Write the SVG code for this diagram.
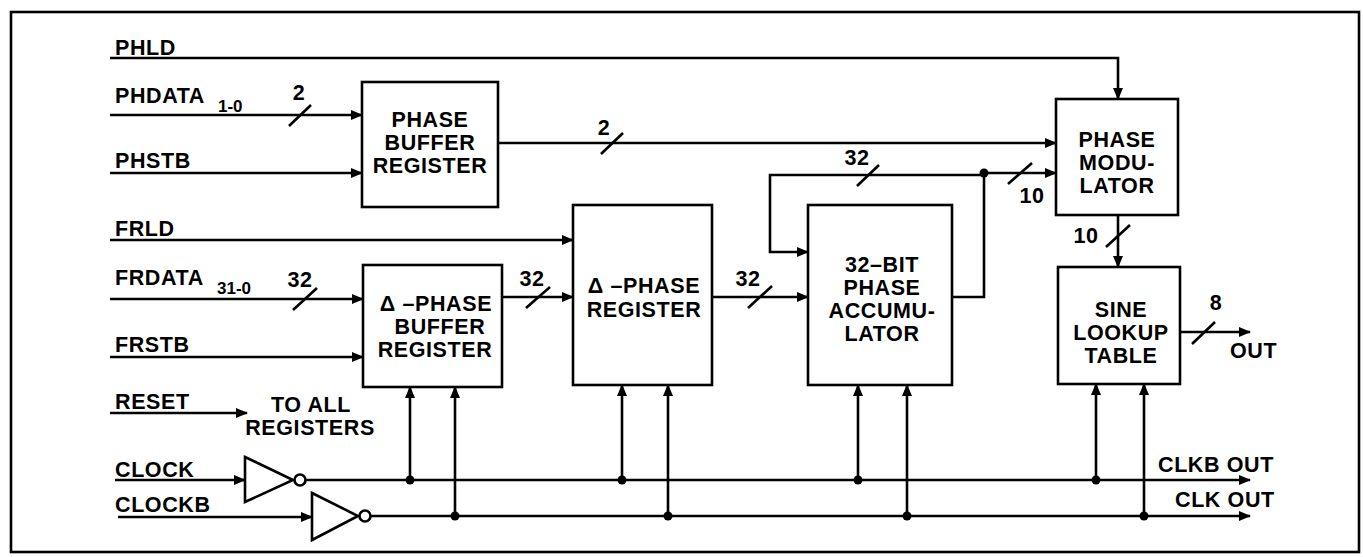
<svg xmlns="http://www.w3.org/2000/svg" width="1363" height="557" viewBox="0 0 1363 557">
<defs>
<marker id="arr" markerUnits="userSpaceOnUse" markerWidth="12" markerHeight="10" refX="11" refY="5" orient="auto">
<path d="M0,0 L12,5 L0,10 z" fill="#000"/>
</marker>
<style>
.w{fill:none;stroke:#000;stroke-width:2.6}
.b{fill:#fff;stroke:#000;stroke-width:2.6}
.s{stroke:#000;stroke-width:2.6}
.t{font-family:"Liberation Sans",Arial,sans-serif;font-weight:bold;font-size:21.5px;letter-spacing:0.6px;fill:#000}
.c{text-anchor:middle}
.sub{font-size:17px;letter-spacing:0}
.d{fill:#000}
</style>
</defs>
<rect x="11" y="12" width="1348" height="540" fill="#fff" stroke="#000" stroke-width="2.6"/>

<g id="connectors">
<path class="w" d="M110,58 H1118 V99" marker-end="url(#arr)"/>
<path class="w" d="M110,115 H362" marker-end="url(#arr)"/>
<path class="w" d="M110,173 H362" marker-end="url(#arr)"/>
<path class="w" d="M498,143 H1056" marker-end="url(#arr)"/>
<path class="w" d="M952,297 H984 V173"/>
<path class="w" d="M984,175 H770 V252 H808" marker-end="url(#arr)"/>
<path class="w" d="M984,173 H1056" marker-end="url(#arr)"/>
<path class="w" d="M1118,215 V267" marker-end="url(#arr)"/>
<path class="w" d="M110,240 H573" marker-end="url(#arr)"/>
<path class="w" d="M110,299 H363" marker-end="url(#arr)"/>
<path class="w" d="M110,357 H363" marker-end="url(#arr)"/>
<path class="w" d="M502,297 H573" marker-end="url(#arr)"/>
<path class="w" d="M712,297 H808" marker-end="url(#arr)"/>
<path class="w" d="M1180,332 H1250" marker-end="url(#arr)"/>
<path class="w" d="M110,413 H247" marker-end="url(#arr)"/>
<path class="w" d="M115,480 H245" marker-end="url(#arr)"/>
<path class="w" d="M305,480 H1250" marker-end="url(#arr)"/>
<path class="w" d="M118,517 H312" marker-end="url(#arr)"/>
<path class="w" d="M371,516 H1250" marker-end="url(#arr)"/>
<path class="w" d="M410,480 V387" marker-end="url(#arr)"/>
<path class="w" d="M455,516 V387" marker-end="url(#arr)"/>
<path class="w" d="M622,480 V385" marker-end="url(#arr)"/>
<path class="w" d="M668,516 V385" marker-end="url(#arr)"/>
<path class="w" d="M858,480 V385" marker-end="url(#arr)"/>
<path class="w" d="M907,516 V385" marker-end="url(#arr)"/>
<path class="w" d="M1096,480 V384" marker-end="url(#arr)"/>
<path class="w" d="M1144,516 V384" marker-end="url(#arr)"/>
<circle class="d" cx="984" cy="173" r="4.5"/>
<circle class="d" cx="410" cy="480" r="4.5"/>
<circle class="d" cx="455" cy="516" r="4.5"/>
<circle class="d" cx="622" cy="480" r="4.5"/>
<circle class="d" cx="668" cy="516" r="4.5"/>
<circle class="d" cx="858" cy="480" r="4.5"/>
<circle class="d" cx="907" cy="516" r="4.5"/>
<circle class="d" cx="1096" cy="480" r="4.5"/>
<circle class="d" cx="1144" cy="516" r="4.5"/>
<line class="s" x1="289" y1="126" x2="311" y2="105"/>
<line class="s" x1="601" y1="154" x2="623" y2="133"/>
<line class="s" x1="857" y1="186" x2="879" y2="165"/>
<line class="s" x1="1008" y1="184" x2="1032" y2="163"/>
<line class="s" x1="1106" y1="247" x2="1130" y2="225"/>
<line class="s" x1="293" y1="310" x2="317" y2="288"/>
<line class="s" x1="526" y1="308" x2="550" y2="287"/>
<line class="s" x1="748" y1="308" x2="772" y2="286"/>
<line class="s" x1="1192" y1="344" x2="1215" y2="322"/>
<text class="t c" x="299" y="100">2</text>
<text class="t c" x="604" y="135">2</text>
<text class="t c" x="857" y="165">32</text>
<text class="t c" x="1032" y="203">10</text>
<text class="t c" x="1086" y="243">10</text>
<text class="t c" x="300" y="287">32</text>
<text class="t c" x="532" y="286">32</text>
<text class="t c" x="748" y="286">32</text>
<text class="t c" x="1216" y="310">8</text>
</g>

<g id="inv-clock">
<path class="b" d="M245,457 L293,480 L245,502 z"/>
<circle class="b" cx="300" cy="480" r="5.5"/>
</g>
<g id="inv-clockb">
<path class="b" d="M312,493 L358,516 L312,540 z"/>
<circle class="b" cx="365" cy="516" r="5.5"/>
</g>

<g id="phase-buffer">
<rect class="b" x="362" y="82" width="136" height="125"/>
<text class="t c" x="430" y="127">PHASE</text>
<text class="t c" x="430" y="150">BUFFER</text>
<text class="t c" x="430" y="173">REGISTER</text>
</g>
<g id="phase-modulator">
<rect class="b" x="1056" y="99" width="122" height="116"/>
<text class="t c" x="1117" y="147">PHASE</text>
<text class="t c" x="1117" y="170">MODU-</text>
<text class="t c" x="1117" y="193">LATOR</text>
</g>
<g id="dphase-buffer">
<rect class="b" x="363" y="265" width="139" height="122"/>
<text class="t c" x="436" y="311">Δ –PHASE</text>
<text class="t c" x="440" y="334">BUFFER</text>
<text class="t c" x="435" y="357">REGISTER</text>
</g>
<g id="dphase-register">
<rect class="b" x="573" y="205" width="139" height="180"/>
<text class="t c" x="644" y="293">Δ –PHASE</text>
<text class="t c" x="644" y="317">REGISTER</text>
</g>
<g id="accumulator">
<rect class="b" x="808" y="205" width="144" height="180"/>
<text class="t c" x="882" y="272">32–BIT</text>
<text class="t c" x="882" y="295">PHASE</text>
<text class="t c" x="882" y="318">ACCUMU-</text>
<text class="t c" x="882" y="341">LATOR</text>
</g>
<g id="sine-lookup">
<rect class="b" x="1058" y="267" width="122" height="117"/>
<text class="t c" x="1121" y="317">SINE</text>
<text class="t c" x="1121" y="340">LOOKUP</text>
<text class="t c" x="1121" y="363">TABLE</text>
</g>

<g id="labels">
<text class="t" x="115" y="55">PHLD</text>
<text class="t" x="115" y="103">PHDATA</text>
<text class="t sub" x="218" y="112">1-0</text>
<text class="t" x="115" y="168">PHSTB</text>
<text class="t" x="115" y="236">FRLD</text>
<text class="t" x="115" y="285">FRDATA</text>
<text class="t sub" x="217" y="294">31-0</text>
<text class="t" x="115" y="352">FRSTB</text>
<text class="t" x="115" y="409">RESET</text>
<text class="t c" x="311" y="412">TO ALL</text>
<text class="t c" x="310" y="435">REGISTERS</text>
<text class="t" x="115" y="477">CLOCK</text>
<text class="t" x="115" y="512">CLOCKB</text>
<text class="t" x="1158" y="472">CLKB OUT</text>
<text class="t" x="1175" y="507">CLK OUT</text>
<text class="t" x="1230" y="358">OUT</text>
</g>
</svg>
